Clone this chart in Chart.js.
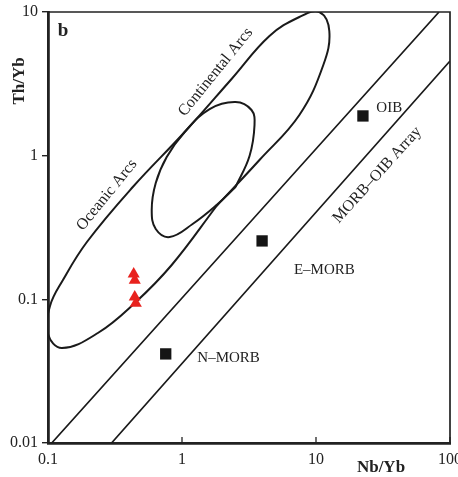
<!DOCTYPE html>
<html>
<head>
<meta charset="utf-8">
<script src="https://cdn.jsdelivr.net/npm/chart.js@4.4.0/dist/chart.umd.min.js"></script>
<style>
  html, body { margin: 0; padding: 0; background: #fff; }
  #wrap { width: 458px; height: 477px; }
</style>
</head>
<body>
<div id="wrap"><canvas id="chart"></canvas></div>
<script>
// axis ticks
const xTicks = [0.1, 1, 10, 100];
const xTickLabels = ['0.1', '1', '10', '100'];
const yTicks = [0.01, 0.1, 1, 10];
const yTickLabels = ['0.01', '0.1', '1', '10'];

// reference compositions (black squares)
const refNames = ['N–MORB', 'E–MORB', 'OIB'];
const refNb = [0.756, 3.96, 22.4];
const refTh = [0.0417, 0.255, 1.89];

// samples (red triangles)
const sampleNb = [0.436, 0.444, 0.444, 0.452];
const sampleTh = [0.150, 0.136, 0.104, 0.094];

// MORB-OIB array boundaries
const arrayUpperNb = [0.1066, 82.8];
const arrayUpperTh = [0.01, 10];
const arrayLowerNb = [0.298, 100];
const arrayLowerTh = [0.01, 4.56];

// arc fields, outlines (closed where the side is straight)
const outerArcNb = [1.812, 0.8379, 0.4443, 0.2356, 0.1272, 0.1000, 0.1035, 0.1293, 0.1951, 0.4293,
  1.047, 2.344, 4.494, 7.516, 10.59, 12.57, 11.34, 7.516, 3.786, 1.812];
const outerArcTh = [0.4462, 0.1734, 0.0943, 0.0583, 0.0458, 0.0574, 0.0899, 0.1363, 0.2506, 0.605,
  1.461, 3.418, 6.806, 9.23, 10.0, 7.37, 4.276, 1.919, 0.933, 0.4462];
const innerArcNb = [2.51, 1.812, 1.2, 0.8096, 0.6368, 0.5943, 0.6368, 0.769, 1.047, 1.607,
  2.51, 3.302, 3.477, 3.191, 2.51];
const innerArcTh = [0.605, 0.4534, 0.3345, 0.2715, 0.3087, 0.4184, 0.645, 0.979, 1.461, 2.112,
  2.364, 2.079, 1.634, 0.9947, 0.605];

const pts = (xs, ys) => xs.map((x, i) => ({ x: x, y: ys[i] }));

// where the field / point labels sit (data units) and their rotation
const labelSpots = [
  { text: 'Oceanic Arcs', x: 0.275, y: 0.532, rot: -51 },
  { text: 'Continental Arcs', x: 1.782, y: 3.82, rot: -51 },
  { text: 'MORB–OIB Array', x: 28.6, y: 0.734, rot: -48 },
  { text: refNames[2], x: 35.2, y: 2.147, rot: 0 },
  { text: refNames[1], x: 11.54, y: 0.1597, rot: 0 },
  { text: refNames[0], x: 2.226, y: 0.0391, rot: 0 }
];

const ink = '#222';
const serif = '"Liberation Serif", "DejaVu Serif", serif';
Chart.defaults.font.family = serif;
Chart.defaults.color = ink;

const decorations = {
  id: 'decorations',
  afterDraw(chart) {
    const { ctx, chartArea: a, scales: { x, y } } = chart;
    ctx.save();
    ctx.strokeStyle = ink;
    // top and right frame
    ctx.lineWidth = 1.7;
    ctx.beginPath();
    ctx.moveTo(a.left, a.top);
    ctx.lineTo(a.right, a.top);
    ctx.lineTo(a.right, a.bottom);
    ctx.stroke();
    // x ticks point inward
    ctx.lineWidth = 1.3;
    xTicks.forEach(v => {
      const px = x.getPixelForValue(v);
      ctx.beginPath();
      ctx.moveTo(px, a.bottom);
      ctx.lineTo(px, a.bottom - 6);
      ctx.stroke();
    });

    ctx.fillStyle = ink;
    ctx.textAlign = 'center';
    ctx.textBaseline = 'middle';
    labelSpots.forEach(l => {
      ctx.save();
      ctx.translate(x.getPixelForValue(l.x), y.getPixelForValue(l.y));
      ctx.rotate(l.rot * Math.PI / 180);
      ctx.font = (l.rot ? '16px ' : '15px ') + serif;
      ctx.fillText(l.text, 0, 0);
      ctx.restore();
    });

    // panel letter + axis titles
    ctx.font = 'bold 19px ' + serif;
    ctx.fillText('b', a.left + 15, a.top + 19);
    ctx.font = 'bold 17px ' + serif;
    ctx.fillText('Nb/Yb', 381, 468);
    ctx.save();
    ctx.translate(20, 81);
    ctx.rotate(-Math.PI / 2);
    ctx.fillText('Th/Yb', 0, 0);
    ctx.restore();
    ctx.restore();
  }
};

const lineSet = (xs, ys, w) => ({
  data: pts(xs, ys),
  showLine: true,
  pointRadius: 0,
  borderColor: '#1a1a1a',
  borderWidth: w,
  tension: 0.4,
  fill: false
});

new Chart(document.getElementById('chart'), {
  type: 'scatter',
  data: {
    datasets: [
      {
        data: pts(sampleNb, sampleTh),
        pointStyle: 'triangle',
        pointRadius: 7,
        pointBackgroundColor: '#e8221e',
        pointBorderWidth: 0
      },
      {
        data: pts(refNb, refTh),
        pointStyle: 'rect',
        pointRadius: 8,
        pointBackgroundColor: '#151515',
        pointBorderWidth: 0
      },
      lineSet(outerArcNb, outerArcTh, 2),
      lineSet(innerArcNb, innerArcTh, 2),
      lineSet(arrayUpperNb, arrayUpperTh, 1.7),
      lineSet(arrayLowerNb, arrayLowerTh, 1.7)
    ]
  },
  options: {
    responsive: true,
    maintainAspectRatio: false,
    animation: false,
    layout: { padding: { left: 0, top: 12, right: 7, bottom: 0 } },
    plugins: { legend: { display: false }, tooltip: { enabled: false } },
    elements: { line: { capBezierPoints: false } },
    events: [],
    scales: {
      x: {
        type: 'logarithmic',
        min: 0.1,
        max: 100,
        afterBuildTicks: s => { s.ticks = xTicks.map(v => ({ value: v })); },
        afterFit: s => { s.height = 34; s.paddingLeft = 0; s.paddingRight = 0; },
        grid: { drawOnChartArea: false, drawTicks: false },
        border: { color: ink, width: 2.8 },
        ticks: {
          font: { size: 16 },
          color: ink,
          padding: 7,
          maxRotation: 0,
          autoSkip: false,
          callback: (v, i) => xTickLabels[i]
        }
      },
      y: {
        type: 'logarithmic',
        min: 0.01,
        max: 10,
        afterBuildTicks: s => { s.ticks = yTicks.map(v => ({ value: v })); },
        afterFit: s => { s.width = 48; s.paddingTop = 0; s.paddingBottom = 0; },
        grid: { drawOnChartArea: false, tickLength: 6, color: ink, lineWidth: 1.4 },
        border: { color: ink, width: 2.8 },
        ticks: {
          font: { size: 16 },
          color: ink,
          padding: 4,
          autoSkip: false,
          callback: (v, i) => yTickLabels[i]
        }
      }
    }
  },
  plugins: [decorations]
});
</script>
</body>
</html>
